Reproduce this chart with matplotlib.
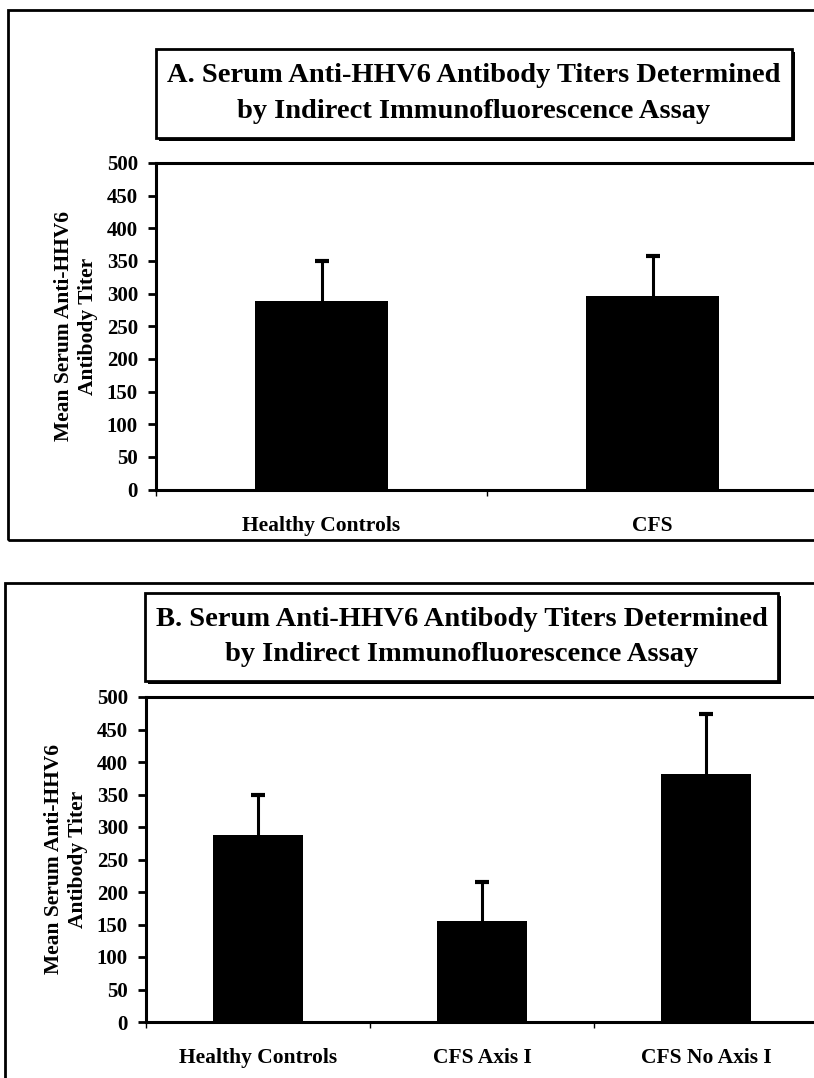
import matplotlib.pyplot as plt
from matplotlib.patches import Rectangle
import numpy as np

# Data
# ---------------------- #
cats_a = ["Healthy Controls", "CFS"]
mean_a = [288, 296]
err_a = [62, 61]

cats_b = ["Healthy Controls", "CFS Axis I", "CFS No Axis I"]
mean_b = [287, 156, 381]
err_b = [62, 60, 93]

title_a = "A. Serum Anti-HHV6 Antibody Titers Determined\nby Indirect Immunofluorescence Assay"
title_b = "B. Serum Anti-HHV6 Antibody Titers Determined\nby Indirect Immunofluorescence Assay"
y_label = "Mean Serum Anti-HHV6\nAntibody Titer"
y_ticks = [0, 50, 100, 150, 200, 250, 300, 350, 400, 450, 500]

plt.rcParams.update({'font.family': ['Liberation Serif', 'DejaVu Serif'],
                     'font.weight': 'bold'})

W, H = 814, 1078
fig = plt.figure(figsize=(W / 100, H / 100), dpi=100)


def fig_rect(x0, y0, x1, y1, **kw):
    # pixel box (top-left origin) -> figure rectangle
    return Rectangle((x0 / W, 1 - y1 / H), (x1 - x0) / W, (y1 - y0) / H,
                     transform=fig.transFigure, **kw)


def title_box(x0, y0, x1, y1, text):
    fig.patches.append(fig_rect(x0 + 3, y0 + 3, x1 + 3, y1 + 3, facecolor='black',
                                edgecolor='black', lw=0, zorder=1))
    fig.patches.append(fig_rect(x0, y0, x1, y1, facecolor='white',
                                edgecolor='black', lw=2, zorder=2))
    fig.text((x0 + x1) / 2 / W, 1 - (y0 + y1) / 2 / H, text, ha='center', va='center',
             fontsize=20.5, fontweight='bold', linespacing=1.55, zorder=3)


def bar_panel(rect, cats, means, errs):
    ax = fig.add_axes(rect)
    x = np.arange(len(cats))
    tops = np.array(means) + np.array(errs)
    ax.bar(x, means, width=0.4, color='black', zorder=2)
    # upper error bars only
    ax.vlines(x, means, tops, color='black', lw=2.2, zorder=3)
    ax.plot(x, tops, linestyle='none', marker='_', markersize=10, markeredgewidth=3,
            color='black', zorder=3)
    ax.set_xlim(-0.5, len(cats) - 0.5)
    ax.set_ylim(0, 500)
    ax.set_yticks(y_ticks)
    ax.set_xticks(x)
    ax.set_xticklabels(cats, fontsize=15.5, fontweight='bold')
    ax.set_xticks(np.arange(len(cats) + 1) - 0.5, minor=True)
    ax.tick_params(axis='x', which='major', length=0, pad=19)
    ax.tick_params(axis='x', which='minor', length=4, width=1, direction='out')
    ax.tick_params(axis='y', length=6, width=2, pad=7, labelsize=15)
    for lab in ax.get_yticklabels():
        lab.set_fontweight('bold')
    for s in ax.spines.values():
        s.set_linewidth(2.2)
    ax.set_ylabel(y_label, fontsize=15.5, fontweight='bold', labelpad=6, linespacing=1.3)
    return ax


# Panel frames
fig.patches.append(fig_rect(8, 10, 840, 540, facecolor='none', edgecolor='black', lw=2))
fig.patches.append(fig_rect(5, 583, 840, 1090, facecolor='none', edgecolor='black', lw=2))

title_box(156, 49, 792, 138, title_a)
title_box(145, 593, 778, 681, title_b)

bar_panel([156 / W, 1 - 489.5 / H, 662 / W, 326.5 / H], cats_a, mean_a, err_a)
bar_panel([146 / W, 1 - 1022 / H, 672 / W, 325 / H], cats_b, mean_b, err_b)

plt.savefig('out.png', dpi=100)
